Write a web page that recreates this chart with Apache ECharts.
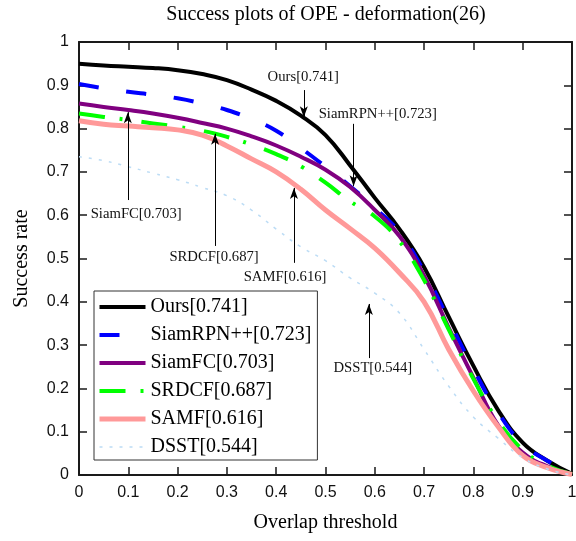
<!DOCTYPE html>
<html>
<head>
<meta charset="utf-8">
<script src="https://cdn.jsdelivr.net/npm/echarts@6/dist/echarts.min.js"></script>
<style>
html,body{margin:0;padding:0;background:#fff;}
#chart{width:576px;height:541px;}
</style>
</head>
<body>
<div id="chart"></div>
<script>
// ---- data ----
const thresholds = [0,0.05,0.1,0.15,0.2,0.25,0.3,0.35,0.4,0.45,0.5,0.55,0.6,0.65,0.7,0.75,0.8,0.85,0.9,0.95,1];
const ours     = [0.950,0.946,0.943,0.940,0.935,0.926,0.912,0.890,0.864,0.830,0.785,0.715,0.640,0.568,0.480,0.365,0.252,0.150,0.075,0.033,0.003];
const siamrpn  = [0.903,0.893,0.885,0.878,0.870,0.858,0.843,0.822,0.795,0.755,0.712,0.667,0.617,0.560,0.470,0.358,0.245,0.145,0.072,0.033,0.003];
const siamfc   = [0.858,0.850,0.843,0.835,0.825,0.813,0.800,0.782,0.761,0.735,0.705,0.665,0.612,0.552,0.460,0.340,0.225,0.115,0.052,0.020,0.002];
const srdcf    = [0.835,0.827,0.820,0.812,0.804,0.795,0.781,0.763,0.741,0.713,0.675,0.632,0.597,0.540,0.450,0.336,0.222,0.125,0.058,0.022,0.002];
const samf     = [0.818,0.810,0.806,0.802,0.797,0.785,0.760,0.730,0.700,0.660,0.612,0.569,0.524,0.467,0.400,0.290,0.194,0.112,0.045,0.017,0.001];
const dsst     = [0.735,0.726,0.712,0.697,0.682,0.664,0.645,0.612,0.568,0.527,0.495,0.455,0.420,0.374,0.290,0.205,0.134,0.085,0.040,0.014,0.000];
const names = ['Ours[0.741]','SiamRPN++[0.723]','SiamFC[0.703]','SRDCF[0.687]','SAMF[0.616]','DSST[0.544]'];
// annotation texts and where they sit (data space)
const annTexts = ['Ours[0.741]','SiamRPN++[0.723]','SiamFC[0.703]','SRDCF[0.687]','SAMF[0.616]','DSST[0.544]'];
const annTextPos = [[0.455,0.919],[0.606,0.834],[0.116,0.603],[0.274,0.503],[0.418,0.457],[0.596,0.247]];
const annArrows = [[0.456,0.889,0.826],[0.557,0.811,0.667],[0.099,0.635,0.838],[0.276,0.529,0.788],[0.436,0.490,0.663],[0.588,0.270,0.395]];

const values = [ours, siamrpn, siamfc, srdcf, samf, dsst];
const styles = [
  {color:'#000000', width:4, type:'solid'},
  {color:'#0000ff', width:4, type:[20,28]},
  {color:'#800080', width:4, type:'solid'},
  {color:'#00ff00', width:4, type:[26,15,3,19]},
  {color:'#ff9999', width:5, type:'solid'},
  {color:'#bcdcf5', width:1.5, type:[3,7]}
];

const serif = 'Liberation Serif';
const sans = 'Liberation Sans';

function axisCommon(pos, showLabel){
  return {
    type:'value', min:0, max:1, interval:0.1, position:pos,
    axisLine:{show:true, onZero:false, lineStyle:{color:'#1a1a1a', width:2}},
    axisTick:{show:true, inside:true, length:8, lineStyle:{color:'#1a1a1a', width:1.5}},
    axisLabel:{show:showLabel, margin:10, fontFamily:sans, fontSize:16, color:'#111'},
    splitLine:{show:false}
  };
}

const xBottom = Object.assign(axisCommon('bottom', true), {
  name:'Overlap threshold', nameLocation:'middle', nameGap:38,
  nameTextStyle:{fontFamily:serif, fontSize:20, color:'#000'}
});
const xTop = axisCommon('top', false);
const yLeft = Object.assign(axisCommon('left', true), {
  name:'Success rate', nameLocation:'middle', nameGap:47,
  nameTextStyle:{fontFamily:serif, fontSize:20, color:'#000'}
});
const yRight = axisCommon('right', false);

const series = names.map((n,i)=>({
  name:n, type:'line', xAxisIndex:0, yAxisIndex:0,
  data: thresholds.map((t,k)=>[t, values[i][k]]),
  symbol:'none', smooth:0.45,
  lineStyle:{color:styles[i].color, width:styles[i].width, type:styles[i].type, cap:'butt', join:'round'},
  itemStyle:{color:styles[i].color},
  animation:false, z: 2
}));

series.push({
  name:'annotations', type:'line', data:[], xAxisIndex:0, yAxisIndex:0, animation:false, z:5,
  markLine:{
    silent:true, animation:false,
    symbol:['none','arrow'], symbolSize:[6,11],
    lineStyle:{color:'#000', width:1, type:'solid', opacity:1},
    label:{show:false},
    emphasis:{disabled:true},
    data: annArrows.map(a=>[{coord:[a[0],a[1]]},{coord:[a[0],a[2]]}])
  },
  markPoint:{
    silent:true, animation:false,
    symbol:'circle', symbolSize:1, itemStyle:{color:'rgba(0,0,0,0)'},
    label:{show:true, position:'inside', formatter:'{b}', color:'#111', fontFamily:serif, fontSize:14.7},
    data: annTexts.map((t,i)=>({name:t, coord:annTextPos[i]}))
  }
});

const chart = echarts.init(document.getElementById('chart'), null, {renderer:'canvas'});
chart.setOption({
  animation:false,
  backgroundColor:'#fff',
  title:{
    text:'Success plots of OPE - deformation(26)', left:321, top:0, textAlign:'center',
    textStyle:{fontFamily:serif, fontSize:20, fontWeight:'normal', color:'#000'}
  },
  grid:{left:79, right:4, top:42, bottom:66, containLabel:false, outerBoundsMode:'none'},
  xAxis:[xBottom, xTop],
  yAxis:[yLeft, yRight],
  legend:{
    orient:'vertical', left:94, top:291,
    itemWidth:46, itemHeight:14, itemGap:8,
    padding:[6,6,3,3],
    borderColor:'#333', borderWidth:1, backgroundColor:'#fff',
    itemStyle:{opacity:0},
    textStyle:{fontFamily:serif, fontSize:20, lineHeight:20, color:'#000'},
    selectedMode:false,
    data: names.map((n,i)=>({name:n, lineStyle:{width:styles[i].width, type:styles[i].type, color:styles[i].color}}))
  },
  series: series
});
</script>
</body>
</html>
